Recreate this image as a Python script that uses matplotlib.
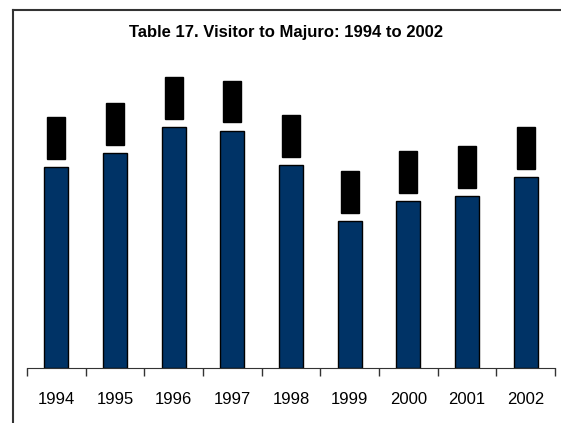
import matplotlib.pyplot as plt
from matplotlib.lines import Line2D
from matplotlib.ticker import FixedLocator

# visitor counts (labels are blacked out in the original)
years = ['1994', '1995', '1996', '1997', '1998', '1999', '2000', '2001', '2002']
visitors = [6030, 6450, 7230, 7110, 6090, 4410, 5010, 5160, 5730]

plt.rcParams['font.family'] = ['Liberation Sans', 'DejaVu Sans']

fig = plt.figure(figsize=(5.61, 4.23), dpi=100)
ax = fig.add_axes([27 / 561, 55 / 423, 528 / 561, 308 / 423])

x = list(range(len(years)))
ax.bar(x, visitors, width=0.41, color='#003366', edgecolor='black', linewidth=1.0)

# data labels: black text on black boxes, as in the original
for xi, v in zip(x, visitors):
    ax.annotate(f' {v:,} ', xy=(xi, v), xytext=(0, 21), textcoords='offset points',
                ha='center', va='center', rotation=90, fontsize=8, color='black',
                bbox=dict(boxstyle='square,pad=0.35', facecolor='black', edgecolor='black'))

ax.set_xlim(-0.5, len(years) - 0.5)
ax.set_ylim(0, 9240)
ax.set_xticks(x)
ax.set_xticklabels(years, fontsize=12)
ax.xaxis.set_minor_locator(FixedLocator([i - 0.5 for i in range(len(years) + 1)]))
ax.tick_params(axis='x', which='major', length=0, pad=17)
ax.tick_params(axis='x', which='minor', length=6, width=1, color='#333333', direction='out')
ax.set_yticks([])
for s in ['left', 'right', 'top']:
    ax.spines[s].set_visible(False)
ax.spines['bottom'].set_color('#333333')

fig.text(286 / 561, 1 - 33 / 423, 'Table 17. Visitor to Majuro: 1994 to 2002',
         ha='center', va='center', fontsize=12, fontweight='bold')

# chart border (left and top edges only are visible)
fig.add_artist(Line2D([12.5 / 561, 12.5 / 561], [0, 1 - 10.5 / 423], color='#333333', linewidth=1.5))
fig.add_artist(Line2D([12.5 / 561, 1], [1 - 10.5 / 423, 1 - 10.5 / 423], color='#333333', linewidth=1.5))

fig.savefig('out.png', dpi=100)
